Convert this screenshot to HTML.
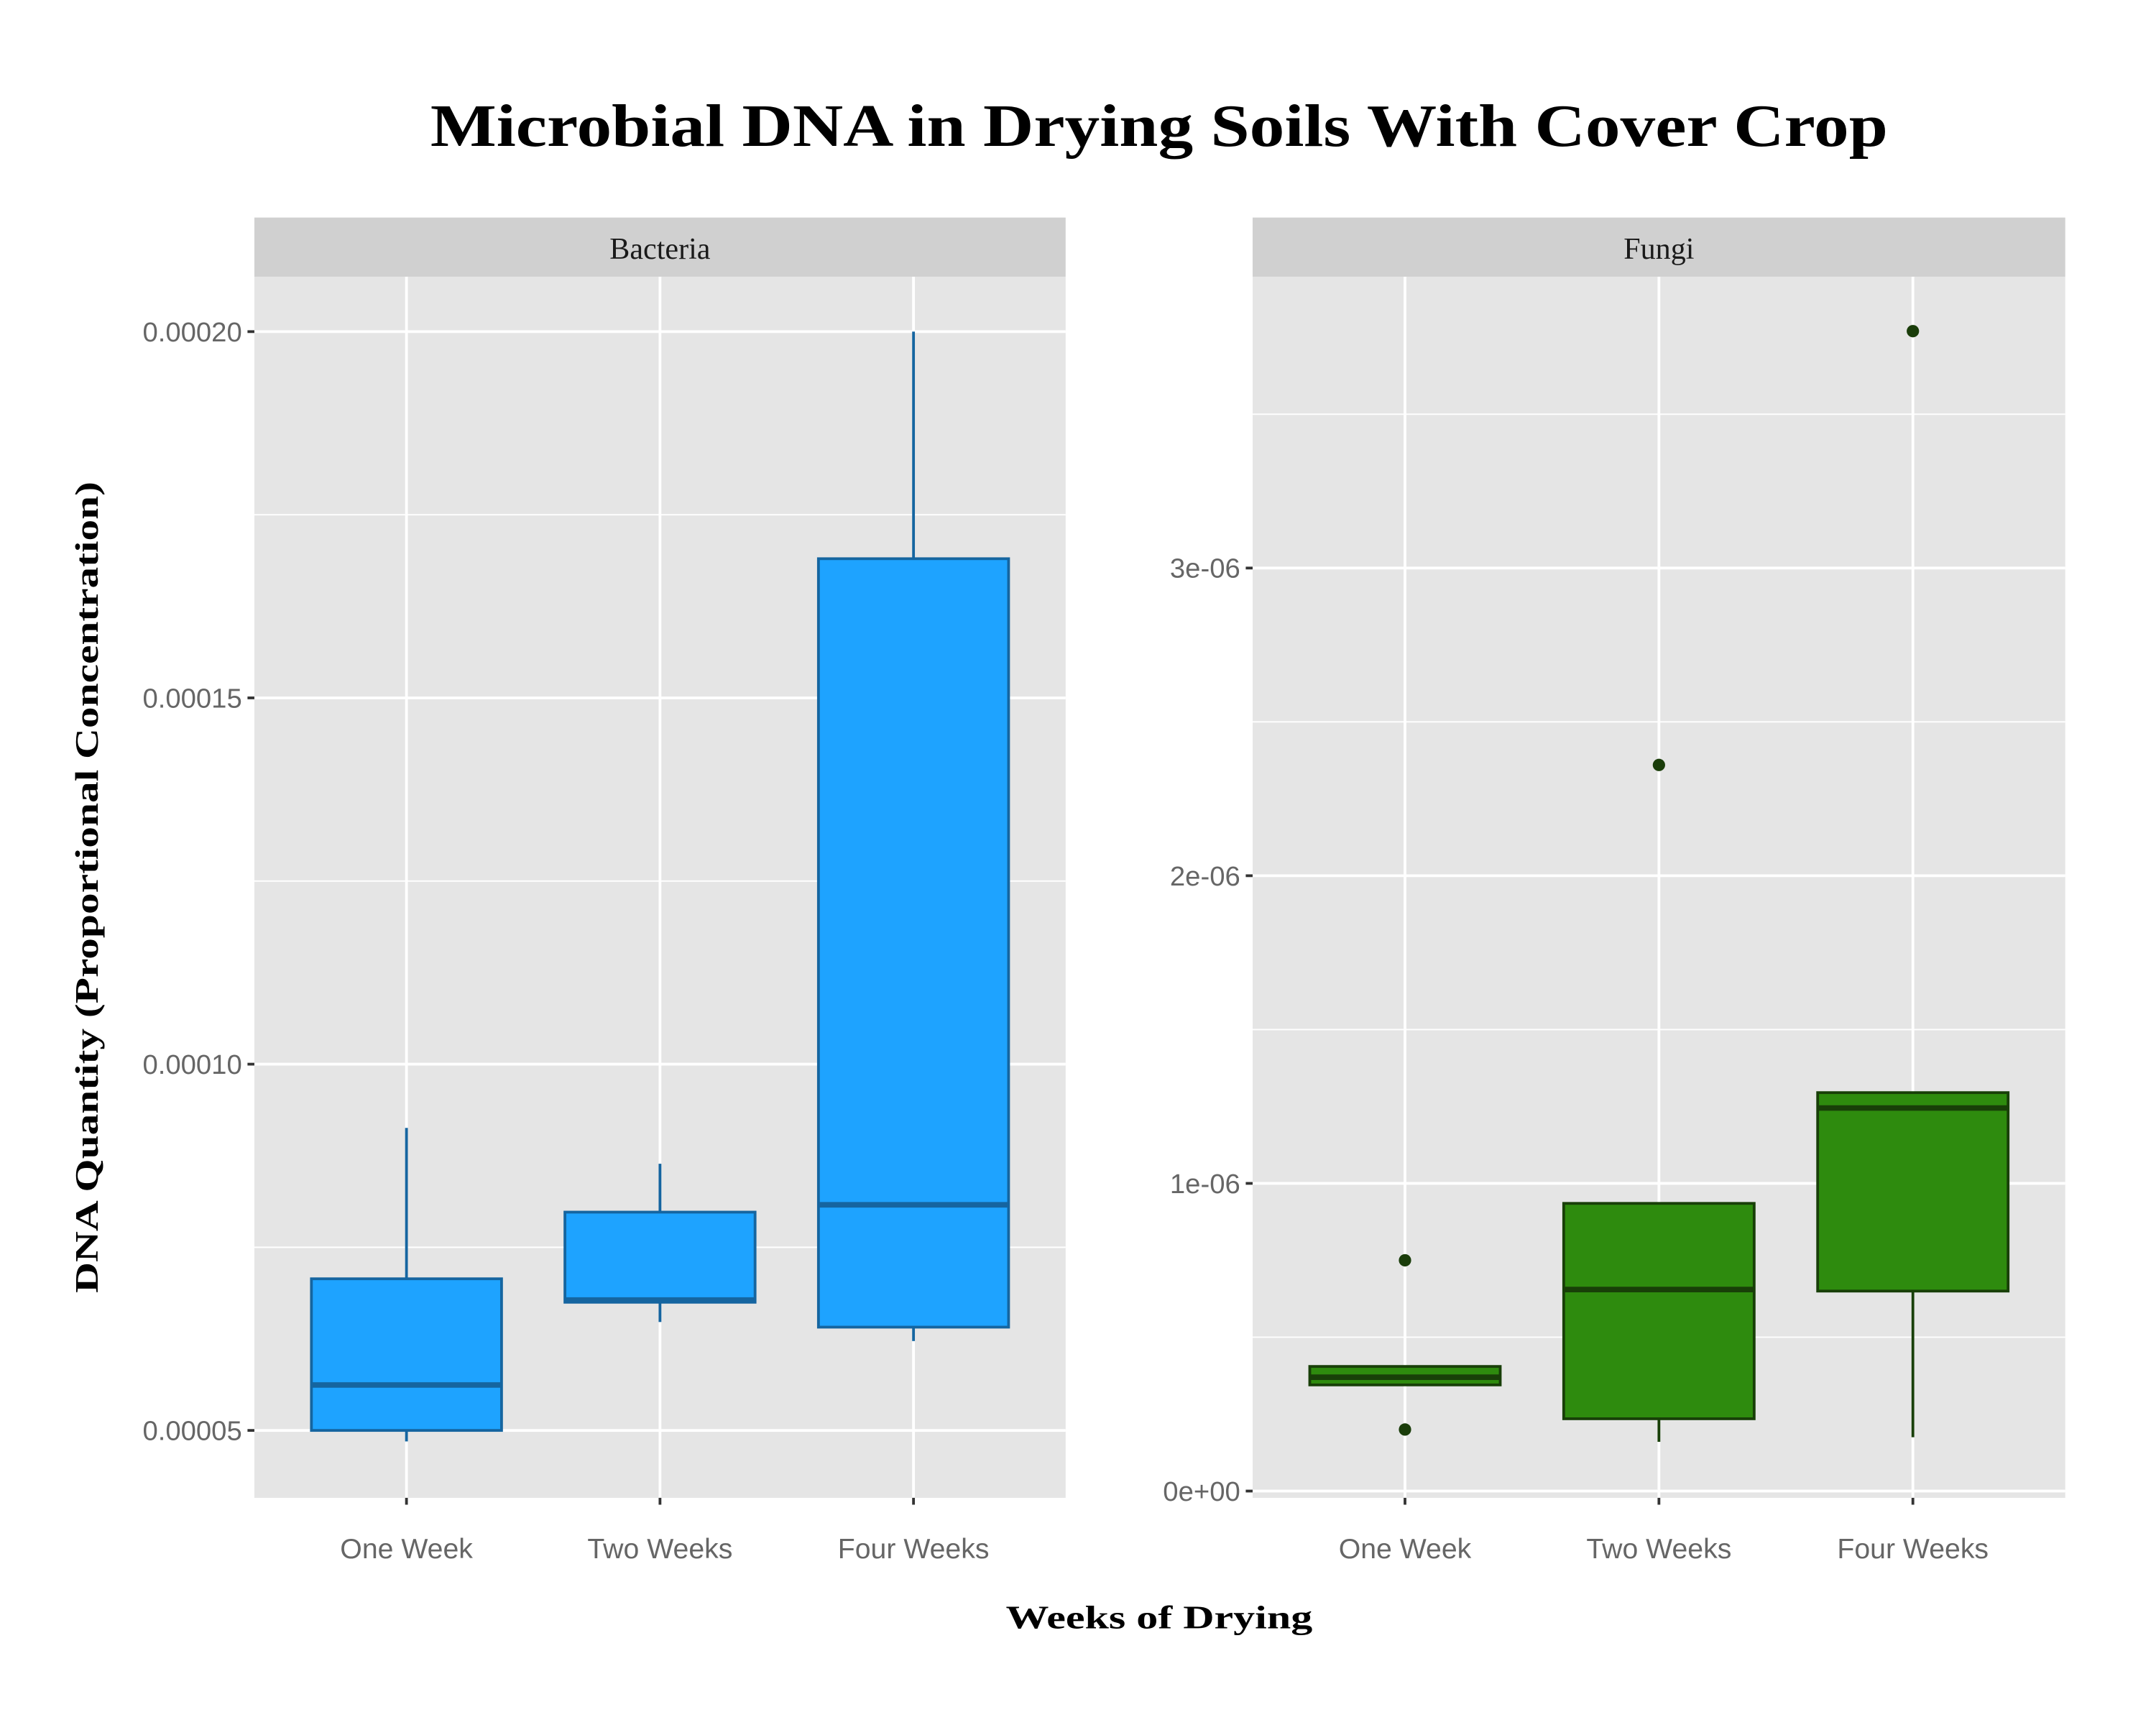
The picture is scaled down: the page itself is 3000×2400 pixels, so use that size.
<!DOCTYPE html>
<html><head><meta charset="utf-8"><style>body{margin:0;background:#fff}svg{display:block}</style></head>
<body>
<svg id="chart" width="3000" height="2400" viewBox="0 0 1568 1254" xmlns="http://www.w3.org/2000/svg">
<rect width="1568" height="1254" fill="#fff"/>
<text x="843" y="106" text-anchor="middle" font-family="Liberation Serif, serif" font-weight="bold" font-size="44" textLength="1060" lengthAdjust="spacingAndGlyphs">Microbial DNA in Drying Soils With Cover Crop</text>
<text x="843" y="1184" text-anchor="middle" font-family="Liberation Serif, serif" font-weight="bold" font-size="24" textLength="223" lengthAdjust="spacingAndGlyphs">Weeks of Drying</text>
<text transform="translate(71,645) rotate(-90)" text-anchor="middle" font-family="Liberation Serif, serif" font-weight="bold" font-size="24" textLength="590" lengthAdjust="spacingAndGlyphs">DNA Quantity (Proportional Concentration)</text>
<g id="panels"></g>
</svg>
<script>
const categories = ["One Week","Two Weeks","Four Weeks"];
const bactLow = [0.0000485,0.0000648,0.0000622];
const bactQ1 = [0.00005,0.0000675,0.0000641];
const bactMed = [0.0000562,0.0000678,0.0000808];
const bactQ3 = [0.0000707,0.0000798,0.000169];
const bactHigh = [0.0000913,0.0000864,0.0002];
const bactOutliers = [[],[],[]];
const bactTicks = [0.00005,0.0001,0.00015,0.0002];
const bactTickLabels = ["0.00005","0.00010","0.00015","0.00020"];
const fungLow = [0.345e-6,0.16e-6,0.175e-6];
const fungQ1 = [0.345e-6,0.235e-6,0.65e-6];
const fungMed = [0.37e-6,0.655e-6,1.245e-6];
const fungQ3 = [0.405e-6,0.935e-6,1.295e-6];
const fungHigh = [0.405e-6,0.935e-6,1.295e-6];
const fungOutliers = [[0.75e-6,0.2e-6],[2.36e-6],[3.77e-6]];
const fungTicks = [0,1e-6,2e-6,3e-6];
const fungTickLabels = ["0e+00","1e-06","2e-06","3e-06"];

const NS="http://www.w3.org/2000/svg";
const root=document.getElementById('panels');
function mk(tag,attrs,parent){const e=document.createElementNS(NS,tag);for(const k in attrs)e.setAttribute(k,attrs[k]);(parent||root).appendChild(e);return e;}

function panel(cfg){
  const {x0,x1,y0,y1,vmin,vmax,title,low,q1,med,q3,high,outl,ticks,labels,fill,stroke,key}=cfg;
  const g=mk('g',{});
  
  
  const ys=v=>y1-(v-vmin)/(vmax-vmin)*(y1-y0);
  const step=(x1-x0)/(categories.length-1+1.2);
  const xs=i=>x0+step*(i+0.6);
  const bg=mk('rect',{x:x0,y:y0,width:x1-x0,height:y1-y0,fill:'#e5e5e5'},g);
  
  
  const strip=mk('rect',{x:x0,y:y0-43,width:x1-x0,height:43,fill:'#d0d0d0'},g);
  
  
  const st=mk('text',{x:(x0+x1)/2,y:y0-13,'text-anchor':'middle','font-family':'Liberation Serif, serif','font-size':22,fill:'#1a1a1a'},g);
  st.textContent=title;
  
  
  for(let i=0;i<ticks.length+1;i++){
    const d=ticks[1]-ticks[0];const v=ticks[0]+d*(i-0.5);
    const y=ys(v); if(y>y0&&y<y1) mk('line',{x1:x0,x2:x1,y1:y,y2:y,stroke:'#fff','stroke-width':1},g);
  }
  ticks.forEach((v,i)=>{
    const y=ys(v);
    mk('line',{x1:x0,x2:x1,y1:y,y2:y,stroke:'#fff','stroke-width':2},g);
    mk('line',{x1:x0-5,x2:x0,y1:y,y2:y,stroke:'#333','stroke-width':2},g);
    const t=mk('text',{x:x0-9,y:y+7,'text-anchor':'end','font-family':'Liberation Sans, sans-serif','font-size':20,fill:'#666'},g);
    t.textContent=labels[i];
    
    
  });
  categories.forEach((c,i)=>{
    const x=xs(i);
    mk('line',{x1:x,x2:x,y1:y0,y2:y1,stroke:'#fff','stroke-width':2},g);
    mk('line',{x1:x,x2:x,y1:y1,y2:y1+5,stroke:'#333','stroke-width':2},g);
    const t=mk('text',{x:x,y:y1+44,'text-anchor':'middle','font-family':'Liberation Sans, sans-serif','font-size':20.5,fill:'#666'},g);
    t.textContent=c;
    
    
    const bw=step*0.75, bx=x-bw/2;
    mk('line',{x1:x,x2:x,y1:ys(high[i]),y2:ys(q3[i]),stroke:stroke,'stroke-width':2},g);
    mk('line',{x1:x,x2:x,y1:ys(q1[i]),y2:ys(low[i]),stroke:stroke,'stroke-width':2},g);
    const b=mk('rect',{x:bx,y:ys(q3[i]),width:bw,height:Math.max(1,ys(q1[i])-ys(q3[i])),fill:fill,stroke:stroke,'stroke-width':2},g);
    
    
    const m=mk('line',{x1:bx,x2:bx+bw,y1:ys(med[i]),y2:ys(med[i]),stroke:stroke,'stroke-width':4},g);
    
    
    outl[i].forEach(v=>{
      const p=mk('circle',{cx:x,cy:ys(v),r:4.5,fill:'#1a3d0a'},g);
      
      
    });
  });
}
panel({key:'bacteria',x0:185,x1:775,y0:201,y1:1089,vmin:0.0000408,vmax:0.0002075,title:'Bacteria',low:bactLow,q1:bactQ1,med:bactMed,q3:bactQ3,high:bactHigh,outl:bactOutliers,ticks:bactTicks,labels:bactTickLabels,fill:'#1ea3ff',stroke:'#1565a0'});
panel({key:'fungi',x0:911,x1:1502,y0:201,y1:1089,vmin:-0.022e-6,vmax:3.947e-6,title:'Fungi',low:fungLow,q1:fungQ1,med:fungMed,q3:fungQ3,high:fungHigh,outl:fungOutliers,ticks:fungTicks,labels:fungTickLabels,fill:'#2e8b0e',stroke:'#183f08'});
</script>
</body></html>
